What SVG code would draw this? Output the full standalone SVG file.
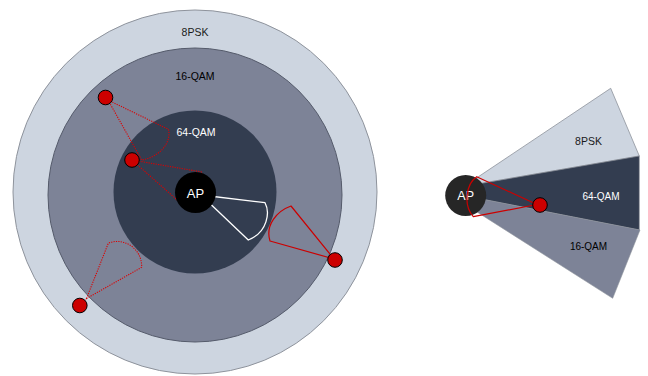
<svg xmlns="http://www.w3.org/2000/svg" width="648" height="376" viewBox="0 0 648 376">
<style>
text{font-family:"Liberation Sans",Arial,sans-serif;text-anchor:middle;dominant-baseline:central}
.lbl{font-size:10.5px}
.dot{fill:#CC0000;stroke:#000;stroke-width:1}
.rs{fill:none;stroke:#CC0000;stroke-width:1.2;stroke-linejoin:round}
.rd{fill:none;stroke:#DD0000;stroke-width:1.1;stroke-dasharray:1.2 1.2}
</style>
<rect width="648" height="376" fill="#fff"/>
<g id="ring-8psk"><circle cx="195" cy="192" r="182" fill="#CDD5E0" stroke="#8E939C" stroke-width="1"/><text class="lbl" x="195" y="32" fill="#1a1a1a">8PSK</text></g>
<g id="ring-16qam"><circle cx="195" cy="195" r="147" fill="#7D8397" stroke="#555b6b" stroke-width="1"/><text class="lbl" x="195" y="76" fill="#000">16-QAM</text></g>
<g id="ring-64qam"><circle cx="195" cy="192" r="81.5" fill="#333D50"/><text class="lbl" x="196" y="132" fill="#fff">64-QAM</text></g>
<g id="connectors">
<path id="beam-ap" d="M201,195 L265,202.7 C270,212 268,232 248.3,240 Z" fill="none" stroke="#fff" stroke-width="1.3" stroke-linejoin="round"/>
<path id="beam-2" class="rd" d="M132,160 L202,172 A71 71 0 0 1 185,207 Z"/>
</g>
<g id="ap-left"><circle cx="195.5" cy="192.5" r="20.5" fill="#000"/><text x="195.5" y="193" fill="#fff" font-size="13">AP</text></g>
<g id="beams">
<path id="beam-1" class="rd" d="M108,100 L168.3,129.3 C172,142 160,157 141.7,160 Z"/>
<path id="beam-4" class="rd" d="M86.5,298.5 L108.3,243.3 C122,237 142,247 141.7,267.3 Z"/>
<path id="beam-3" class="rs" d="M334,259 L291,206 C277,211 265,225 270,241 Z"/>
</g>
<g id="sta-1"><circle class="dot" cx="105.5" cy="97.5" r="7.3"/></g>
<g id="sta-2"><circle class="dot" cx="132" cy="160" r="7.3"/></g>
<g id="sta-3"><circle class="dot" cx="335" cy="260" r="7.3"/></g>
<g id="sta-4"><circle class="dot" cx="79.8" cy="305.5" r="7.3"/></g>

<g id="wedge-8psk"><path d="M466,185 L610.7,88.3 L639.3,156 L466,186 Z" fill="#CDD5E0" stroke="#8E939C" stroke-width="0.8"/><text class="lbl" x="588.5" y="141" fill="#1a1a1a" font-size="10">8PSK</text></g>
<g id="wedge-64qam"><path d="M466,186 L639.3,156 L639.3,230 L466,196 Z" fill="#333D50" stroke="#8E939C" stroke-width="0.6"/><text x="601" y="196.5" fill="#fff" font-size="10">64-QAM</text></g>
<g id="wedge-16qam"><path d="M466,196 L640,230 L612.7,298.3 L466,205 Z" fill="#7D8397" stroke="#8E939C" stroke-width="0.6"/><text x="588.5" y="246" fill="#000" font-size="10">16-QAM</text></g>
<g id="ap-right"><circle cx="465.7" cy="195.5" r="20.5" fill="#262626"/><text x="465.7" y="196" fill="#fff" font-size="12.5">AP</text></g>
<g id="beam-right"><path class="rs" d="M537,204.5 L476.7,176.7 C466,184 463,205 473.3,216.7 Z"/></g>
<g id="sta-right"><circle class="dot" cx="540" cy="205" r="7.3"/></g>
</svg>
